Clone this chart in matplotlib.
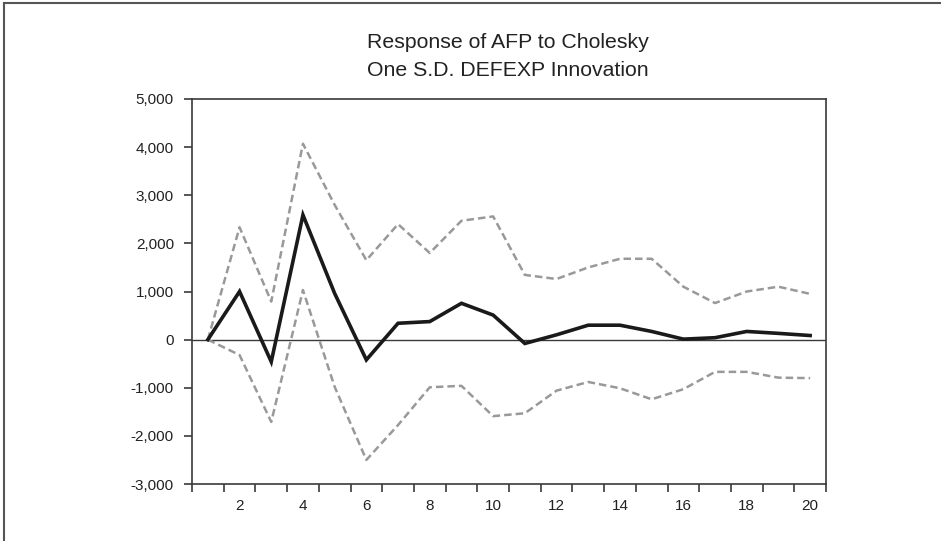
import matplotlib
matplotlib.use('Agg')
import matplotlib.pyplot as plt
import matplotlib.ticker
from matplotlib.lines import Line2D
import numpy as np

periods = list(range(1, 21))
response = [0, 1000, -460, 2590, 960, -420, 340, 375, 755, 510,
            -80, 100, 300, 300, 170, 10, 40, 170, 130, 85]
upper = [0, 2335, 790, 4070, 2800, 1650, 2400, 1800, 2470, 2560,
         1345, 1260, 1500, 1680, 1680, 1100, 760, 1000, 1100, 950]
lower = [0, -320, -1710, 1030, -980, -2500, -1775, -990, -960, -1590,
         -1530, -1060, -880, -1010, -1240, -1030, -670, -670, -790, -800]

title = 'Response of AFP to Cholesky\nOne S.D. DEFEXP Innovation'
y_ticks = list(range(-3000, 5001, 1000))
x_labels = list(range(2, 21, 2))

plt.rcParams['font.family'] = ['Liberation Sans', 'DejaVu Sans']

fig = plt.figure(figsize=(9.41, 5.41), dpi=100)
ax = fig.add_axes([192 / 941, 57 / 541, 634 / 941, 385 / 541])

spine_color = '#3a3a3a'
ax.plot(periods, upper, color='#999999', linewidth=1.8, dashes=(3.0, 1.6))
ax.plot(periods, lower, color='#999999', linewidth=1.8, dashes=(3.0, 1.6))
ax.plot(periods, response, color='#1a1a1a', linewidth=2.6, solid_joinstyle='miter')
ax.axhline(0, color=spine_color, linewidth=1.0, zorder=1)

ax.set_xlim(0.5, 20.5)
ax.set_ylim(-3000, 5000)

# ticks sit between periods, labels under even periods
ax.xaxis.set_major_locator(matplotlib.ticker.FixedLocator(np.arange(0.5, 21, 1.0)))
ax.xaxis.set_major_formatter(matplotlib.ticker.NullFormatter())
ax.xaxis.set_minor_locator(matplotlib.ticker.FixedLocator(x_labels))
ax.xaxis.set_minor_formatter(matplotlib.ticker.FixedFormatter([str(v) for v in x_labels]))
ax.tick_params(axis='x', which='major', direction='out', length=6, width=1.2, color=spine_color)
ax.tick_params(axis='x', which='minor', length=0, pad=11, labelsize=11, labelcolor='#222222')

ax.set_yticks(y_ticks)
ax.yaxis.set_major_formatter(matplotlib.ticker.FuncFormatter(lambda v, p: f'{int(v):,}'))
ax.tick_params(axis='y', direction='out', length=6, width=1.2, pad=7, labelsize=11,
               color=spine_color, labelcolor='#222222')

for s in ax.spines.values():
    s.set_color(spine_color)
    s.set_linewidth(1.2)

fig.text(0.54, 1 - 56 / 541, title, ha='center', va='center', fontsize=15.3,
         color='#222222', linespacing=1.6)

# outer frame: top and left edges only
fig.add_artist(Line2D([4 / 941, 1], [1 - 3 / 541, 1 - 3 / 541], transform=fig.transFigure,
                      color='#555555', linewidth=1.5))
fig.add_artist(Line2D([4 / 941, 4 / 941], [0, 1 - 3 / 541], transform=fig.transFigure,
                      color='#555555', linewidth=1.5))

fig.savefig('out.png', dpi=100)
